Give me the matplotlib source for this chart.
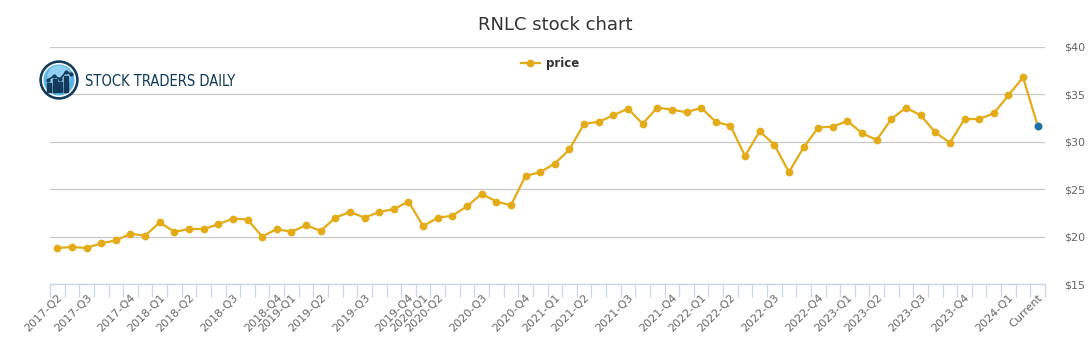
import matplotlib
matplotlib.use("Agg")
import matplotlib.pyplot as plt
from matplotlib.patches import Circle, Rectangle
import numpy as np

prices = [18.8, 18.9, 18.8, 19.3, 19.6, 20.3, 20.1, 21.5, 20.5, 20.8,
          20.8, 21.3, 21.9, 21.8, 20.0, 20.8, 20.5, 21.2, 20.6, 22.0,
          22.6, 22.0, 22.6, 22.9, 23.7, 21.1, 22.0, 22.2, 23.2, 24.5,
          23.7, 23.3, 26.4, 26.8, 27.7, 29.2, 31.9, 32.1, 32.8, 33.5,
          31.9, 33.6, 33.4, 33.1, 33.6, 32.1, 31.7, 28.5, 31.1, 29.7,
          26.8, 29.4, 31.5, 31.6, 32.2, 30.9, 30.2, 32.4, 33.6, 32.8,
          31.0, 29.9, 32.4, 32.4, 33.0, 34.9, 36.8, 31.7]

label_positions = [0, 2, 5, 7, 9, 12, 15, 16, 18, 21, 24, 25, 26, 29, 32, 34,
                   36, 39, 42, 44, 46, 49, 52, 54, 56, 59, 62, 65, 67]
label_texts = ["2017-Q2", "2017-Q3", "2017-Q4", "2018-Q1", "2018-Q2", "2018-Q3",
               "2018-Q4", "2019-Q1", "2019-Q2", "2019-Q3", "2019-Q4", "2020-Q1",
               "2020-Q2", "2020-Q3", "2020-Q4", "2021-Q1", "2021-Q2", "2021-Q3",
               "2021-Q4", "2022-Q1", "2022-Q2", "2022-Q3", "2022-Q4", "2023-Q1",
               "2023-Q2", "2023-Q3", "2023-Q4", "2024-Q1", "Current"]
y_ticks = [15, 20, 25, 30, 35, 40]
y_tick_labels = ["$15", "$20", "$25", "$30", "$35", "$40"]

W, H = 1091, 350
fig = plt.figure(figsize=(W / 100, H / 100), dpi=100)
ax = fig.add_axes([50 / W, (H - 284) / H, 995 / W, 237 / H])

x = np.arange(len(prices))
line_color = "#e3ab17"
ax.plot(x, prices, color=line_color, lw=1.6, marker="o", ms=5.6,
        markeredgewidth=0, label="price", zorder=3)
ax.plot(x[-1:], prices[-1:], color="#1a72ad", marker="o", ms=5.6,
        markeredgewidth=0, linestyle="none", zorder=4)

ax.set_xlim(-0.5, len(prices) - 0.5)
ax.set_ylim(15, 40)

ax.set_yticks(y_ticks)
ax.set_yticklabels(y_tick_labels)
ax.yaxis.tick_right()
ax.tick_params(axis="y", length=0, pad=14, labelsize=8, labelcolor="#666666")
ax.grid(axis="y", color="#c8c8c8", lw=0.9)
ax.set_axisbelow(True)

ax.set_xticks(label_positions)
ax.set_xticklabels(label_texts, rotation=45, ha="right", rotation_mode="anchor")
ax.set_xticks(np.arange(len(prices) + 1) - 0.5, minor=True)
ax.tick_params(axis="x", which="major", length=0, pad=6, labelsize=8,
               labelcolor="#666666")
ax.tick_params(axis="x", which="minor", length=9, width=0.9, color="#ccd6eb")

for s in ["top", "left", "right"]:
    ax.spines[s].set_visible(False)
ax.spines["bottom"].set_color("#ccd6eb")
ax.spines["bottom"].set_linewidth(1)

fig.text(555 / W, 1 - 25 / H, "RNLC stock chart", ha="center", va="center",
         fontsize=13, color="#333333")

leg = fig.legend(loc="center", bbox_to_anchor=(550 / W, 1 - 64 / H), frameon=False,
                 prop={"weight": "bold", "size": 8.5}, handlelength=1.6,
                 handletextpad=0.5)
for t in leg.get_texts():
    t.set_color("#333333")

# logo
lax = fig.add_axes([39 / W, 1 - 100 / H, 40 / W, 40 / H])
lax.set_xlim(-1, 1)
lax.set_ylim(-1, 1)
lax.set_aspect("equal")
lax.axis("off")
lax.add_patch(Circle((0, 0), 0.95, color="#143a5a"))
lax.add_patch(Circle((0, 0), 0.82, color="#ffffff"))
lax.add_patch(Circle((0, 0), 0.74, color="#58b4e8"))
lax.add_patch(Circle((0, 0.15), 0.55, color="#8fd0f4"))
for bx, bh in [(-0.5, 0.45), (-0.22, 0.65), (0.06, 0.5), (0.34, 0.8)]:
    lax.add_patch(Rectangle((bx - 0.1, -0.6), 0.2, bh, color="#143a5a"))
lax.plot([-0.55, -0.25, 0.05, 0.35, 0.6], [0.0, 0.2, 0.05, 0.4, 0.3],
         color="#143a5a", lw=1.2, marker="o", ms=2)
fig.text(85 / W, 1 - 82 / H, "STOCK TRADERS DAILY", ha="left", va="center",
         fontsize=10.5, color="#0e3a5a", fontstretch="condensed",
         family=["Liberation Sans Narrow", "DejaVu Sans"])

fig.savefig("out.png", dpi=100)
